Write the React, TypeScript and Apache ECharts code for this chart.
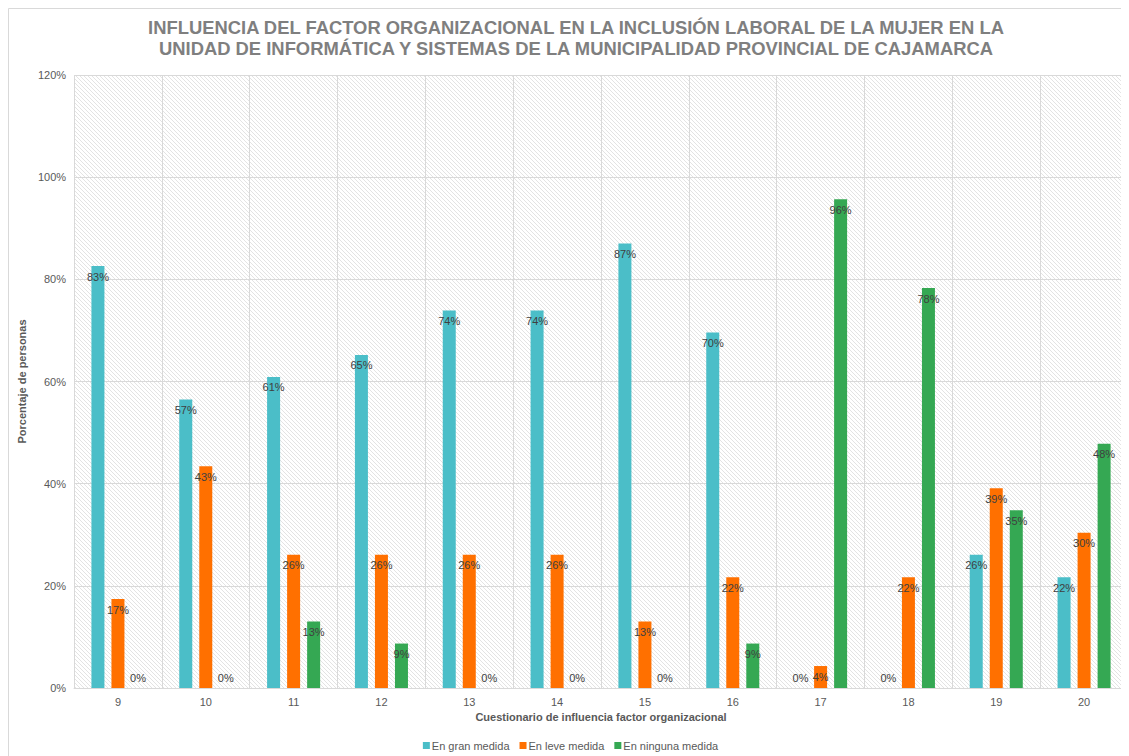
import React, { useEffect, useRef } from "react";
import * as echarts from "echarts";

const categories = ["9", "10", "11", "12", "13", "14", "15", "16", "17", "18", "19", "20"];
const granMedida = [82.6, 56.5, 60.9, 65.2, 73.9, 73.9, 87.0, 69.6, 0, 0, 26.1, 21.7];
const leveMedida = [17.4, 43.4, 26.1, 26.1, 26.1, 26.1, 13.0, 21.7, 4.3, 21.7, 39.1, 30.4];
const ningunaMedida = [0, 0, 13.0, 8.7, 0, 0, 0, 8.7, 95.7, 78.3, 34.8, 47.8];
const seriesNames = ["En gran medida", "En leve medida", "En ninguna medida"];
const colors = ["#4BBEC8", "#FF7000", "#35A853"];

const FONT = "'Liberation Sans', Arial, sans-serif";

export default function App() {
  const ref = useRef<HTMLDivElement>(null);
  useEffect(() => {
    document.documentElement.style.overflow = "hidden";
    document.body.style.overflow = "hidden";
    const chart = echarts.init(ref.current!, null, { renderer: "svg" });
    const svgTile =
      "<svg xmlns='http://www.w3.org/2000/svg' width='4' height='4'>" +
      "<rect width='4' height='4' fill='#ffffff'/>" +
      "<path d='M-1,-1 L5,5 M-1,3 L1,5 M3,-1 L5,1' stroke='#e3e3e3' stroke-width='1'/></svg>";
    const tileUrl = "data:image/svg+xml;charset=utf-8," + encodeURIComponent(svgTile);
    const mk = (name: string, vals: number[], color: string) => ({
      name,
      type: "bar",
      barWidth: 13,
      barGap: "54%",
      itemStyle: { color },
      label: {
        show: true,
        position: "insideTop",
        distance: 5,
        color: "#404040",
        fontSize: 11,
        fontFamily: FONT,
        textBorderWidth: 0,
        formatter: (p: any) => Math.round(p.value) + "%",
      },
      data: vals.map((v) => (v === 0 ? { value: v, label: { position: "top", distance: 5 } } : v)),
    });
    chart.setOption({
      animation: false,
      textStyle: { fontFamily: FONT },
      title: {
        text: "INFLUENCIA DEL FACTOR ORGANIZACIONAL EN LA INCLUSIÓN LABORAL DE LA MUJER EN LA\nUNIDAD DE INFORMÁTICA Y SISTEMAS DE LA MUNICIPALIDAD PROVINCIAL DE CAJAMARCA",
        left: 563,
        top: 4,
        textAlign: "center",
        textStyle: { fontSize: 18.4, fontWeight: "bold", color: "#7f7f7f", lineHeight: 21, fontFamily: FONT },
      },
      graphic: [
        {
          type: "rect",
          shape: { x: 0.5, y: 0.5, width: 1300, height: 900 },
          style: { fill: "none", stroke: "#d9d9d9", lineWidth: 1 },
          silent: true,
          z: -10,
        },
      ],
      grid: {
        show: true,
        left: 64,
        top: 67,
        width: 1056,
        height: 613,
        borderWidth: 0,
        backgroundColor: { image: tileUrl, repeat: "repeat", imageWidth: 4, imageHeight: 4 },
      },
      legend: {
        data: seriesNames,
        left: "center",
        top: 727,
        itemWidth: 7,
        itemHeight: 7,
        itemGap: 10,
        icon: "rect",
        textStyle: { fontSize: 11, color: "#595959", fontFamily: FONT, padding: [0, 0, 0, -3] },
      },
      xAxis: {
        type: "category",
        data: categories,
        name: "Cuestionario de influencia factor organizacional",
        nameLocation: "middle",
        nameGap: 23,
        nameTextStyle: { fontSize: 11, fontWeight: "bold", color: "#595959", fontFamily: FONT },
        axisLine: { show: true, lineStyle: { color: "#d9d9d9", width: 1 } },
        axisTick: { show: false },
        axisLabel: { fontSize: 11, color: "#595959", margin: 8, fontFamily: FONT },
        splitLine: { show: true, lineStyle: { color: "#d9d9d9", width: 1 } },
      },
      yAxis: {
        type: "value",
        min: 0,
        max: 120,
        interval: 20,
        name: "Porcentaje de personas",
        nameLocation: "middle",
        nameGap: 30,
        nameTextStyle: { fontSize: 11, fontWeight: "bold", color: "#595959", fontFamily: FONT },
        axisLine: { show: false },
        axisTick: { show: false },
        axisLabel: { fontSize: 11, color: "#595959", margin: 8, formatter: "{value}%", fontFamily: FONT },
        splitLine: { show: true, lineStyle: { color: "#d9d9d9", width: 1 } },
      },
      series: [
        mk(seriesNames[0], granMedida, colors[0]),
        mk(seriesNames[1], leveMedida, colors[1]),
        mk(seriesNames[2], ningunaMedida, colors[2]),
      ],
    });
    return () => chart.dispose();
  }, []);
  return <div ref={ref} style={{ width: 1125, height: 748 }} />;
}
